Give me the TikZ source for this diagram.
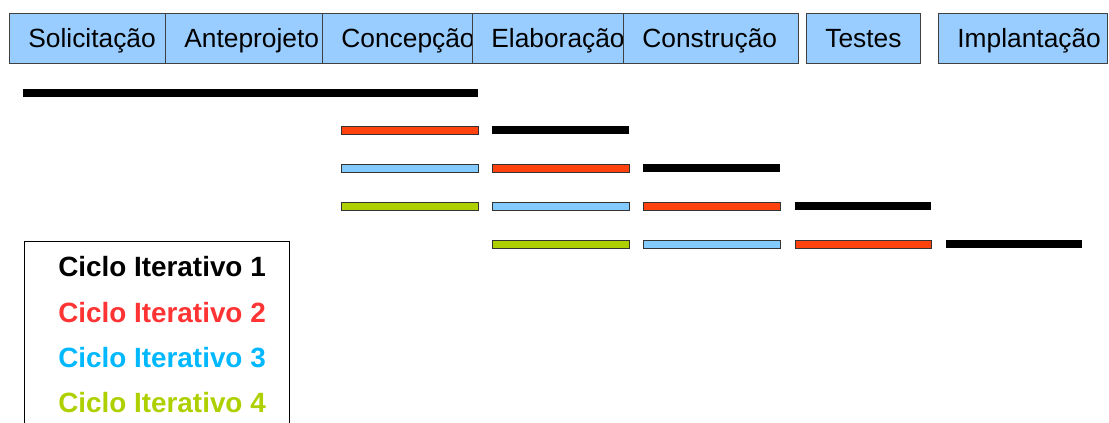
\documentclass[tikz,border=0pt]{standalone}
\usepackage{fontspec}
\setmainfont{Liberation Sans}
\usepackage{xcolor}
\usepackage{tikz}
\definecolor{phaseblue}{HTML}{99CCFF}
\definecolor{cyclered}{HTML}{FF420E}
\definecolor{cycleblue}{HTML}{83CAFF}
\definecolor{cyclegreen}{HTML}{AECF00}
\definecolor{legred}{HTML}{FF3333}
\definecolor{legblue}{HTML}{00B8FF}
\definecolor{leggreen}{HTML}{AECF00}
\tikzstyle{phase} = [rectangle, anchor=north west, minimum height=37.5pt, inner xsep=14.25pt, inner ysep=0pt,
draw=black!75, line width=0.6pt, fill=phaseblue, align=left, text height=18pt, text depth=4.5pt,
font=\fontsize{19.75}{23}\selectfont]
\tikzstyle{bar} = [draw=black!80, line width=0.6pt]
\tikzstyle{blackbar} = [fill=black]
\tikzstyle{legend} = [anchor=west, inner sep=0pt, font=\fontsize{20.9}{24}\selectfont\bfseries]

\begin{document}
\begin{tikzpicture}[x=0.75pt, y=-0.75pt]
        \useasboundingbox (0,0) rectangle (1109,422);
        % phases
        \node (sol) [phase, text width=88.5pt] at (9,13) {Solicitação};
        \node (ante) [phase, text width=89.25pt] at (165,13) {Anteprojeto};
        \node (conc) [phase, text width=84pt] at (322,13) {Concepção};
        \node (elab) [phase, text width=84.75pt] at (472,13) {Elaboração};
        \node (cons) [phase, text width=102.75pt] at (623,13) {Construção};
        \node (test) [phase, text width=58.5pt, align=center, inner xsep=13.5pt] at (806,13) {Testes};
        \node (impl) [phase, text width=98.25pt] at (938,13) {Implantação};
        % bars
        \fill [blackbar] (23,88.5) rectangle (478,96.5);
        \filldraw [bar, fill=cyclered] (341,126) rectangle (478,134);
        \fill [blackbar] (492,126) rectangle (629,134);
        \filldraw [bar, fill=cycleblue] (341,164) rectangle (478,172);
        \filldraw [bar, fill=cyclered] (492,164) rectangle (629,172);
        \fill [blackbar] (643,164) rectangle (780,172);
        \filldraw [bar, fill=cyclegreen] (341,202) rectangle (478,210);
        \filldraw [bar, fill=cycleblue] (492,202) rectangle (629,210);
        \filldraw [bar, fill=cyclered] (643,202) rectangle (780,210);
        \fill [blackbar] (795,202) rectangle (931,210);
        \filldraw [bar, fill=cyclegreen] (492,240) rectangle (629,248);
        \filldraw [bar, fill=cycleblue] (643,240) rectangle (780,248);
        \filldraw [bar, fill=cyclered] (795,240) rectangle (931,248);
        \fill [blackbar] (946,240) rectangle (1082,248);
        % legend
        \draw [line width=0.6pt] (24,424) -- (24,241) -- (289,241) -- (289,424);
        \node (leg1) [legend, text=black] at (58,267) {Ciclo Iterativo 1};
        \node (leg2) [legend, text=legred] at (58,313) {Ciclo Iterativo 2};
        \node (leg3) [legend, text=legblue] at (58,358) {Ciclo Iterativo 3};
        \node (leg4) [legend, text=leggreen] at (58,403) {Ciclo Iterativo 4};
    \end{tikzpicture}
\end{document}
